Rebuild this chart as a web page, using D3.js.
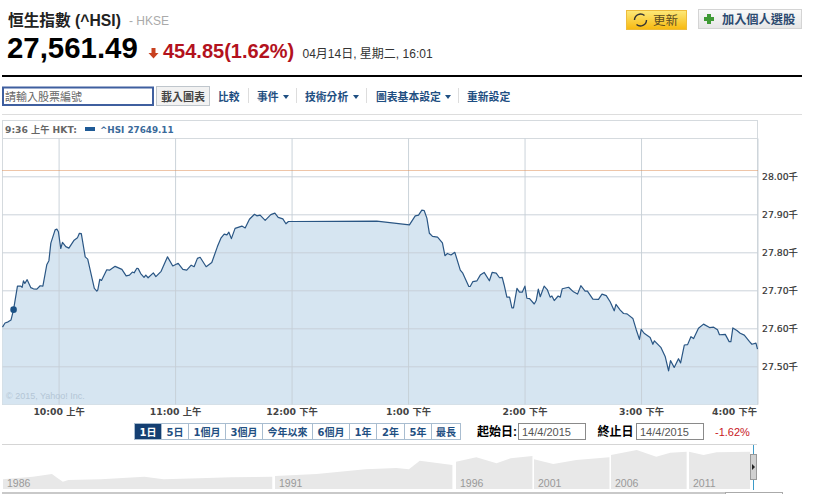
<!DOCTYPE html>
<html><head><meta charset="utf-8">
<script src="https://cdnjs.cloudflare.com/ajax/libs/d3/7.8.5/d3.min.js"></script>
<style>html,body{margin:0;padding:0;background:#fff;overflow:hidden}svg{display:block}</style>
</head><body><svg id="c" width="814" height="494"></svg>
<script>
// minutes after 09:00 on 14 Apr 2015
const minutes=[31.1,32.4,34,35.5,36.8,38.8,40.5,41.2,41.9,42.6,43.8,45.7,47,48.8,50.5,51.9,53.9,55,56,58.2,59.1,59.9,61.1,62,63.7,65.3,68,69.7,70.7,71.7,73.7,75,78.4,79.7,80.2,81.2,82.1,84.8,86.2,89.1,92.6,94.8,96.5,98,98.9,100.3,101,102.3,104,104.9,106.1,108.8,110.1,112.8,116.1,118.8,121.6,124,126,128.3,129.8,131.5,132.9,136,138.9,141.8,143.6,145.3,146.7,147.7,149,150.9,154.4,156.1,158.3,160.9,162.1,163.8,166.4,169.3,171.4,173.1,175.5,177.1,178.4,180.7,223.9,240.7,243.7,245.4,247.1,248.3,249.7,251,252.6,255.2,257.7,259,260.3,262.1,264.1,266.9,268.2,269.6,271.3,272,273.4,275.5,277.2,279.2,281.9,283.3,285.4,287.1,288.5,289.5,290.9,292.3,293.5,294.3,296.1,297.4,298.8,300.2,301.2,302.6,305,306,307.1,308.1,310.1,311.8,313.2,314.1,315.3,317.3,318.4,319.4,322.7,325.2,327.3,329,331.2,332.4,335.2,338.1,339.9,342.1,344.1,346.2,347.1,349.3,351,352.8,355.8,357.5,359.2,360.1,361.6,364.7,366.1,366.9,370.2,372.5,374.2,375.2,377.1,379.3,380.4,382.3,384,385.7,387.1,389.6,392.2,395.3,397.4,399.4,400.4,403.4,405.4,406.3,407.3,409.4,411.1,413.2,415.9,417.1,419.2,420];
const prices=[27603,27614,27617,27622,27649,27711,27711,27708,27725,27718,27728,27707,27704,27703,27712,27711,27767,27778,27824,27859,27861,27854,27810,27826,27815,27811,27832,27838,27850,27849,27788,27782,27705,27698,27701,27729,27726,27754,27753,27763,27755,27738,27740,27748,27746,27758,27757,27744,27734,27740,27733,27746,27736,27750,27788,27764,27771,27755,27753,27766,27762,27784,27787,27762,27773,27815,27837,27848,27846,27853,27836,27863,27869,27864,27887,27900,27896,27898,27884,27899,27903,27892,27888,27875,27881,27881,27882,27872,27896,27898,27911,27910,27890,27850,27842,27840,27825,27791,27797,27793,27800,27753,27745,27729,27710,27710,27723,27725,27740,27747,27725,27747,27745,27733,27734,27714,27682,27682,27654,27654,27705,27695,27695,27711,27679,27678,27664,27673,27703,27683,27711,27701,27682,27685,27673,27685,27682,27704,27708,27696,27690,27712,27698,27698,27677,27676,27690,27686,27670,27646,27663,27648,27639,27638,27626,27597,27571,27597,27587,27576,27558,27567,27550,27525,27488,27515,27497,27520,27509,27556,27557,27578,27573,27600,27611,27602,27603,27596,27583,27584,27565,27565,27601,27594,27587,27582,27565,27558,27561,27545];
const priceTicks=[27500,27600,27700,27800,27900,28000];
const timeTicks=[60,120,180,240,300,360,420];
const timeLabels=["10:00 上午","11:00 上午","12:00 下午","1:00 下午","2:00 下午","3:00 下午","4:00 下午"];
const previousClose=28016.34;
const hoverMinute=36.8, hoverPrice=27649.11;
const rangeLabels=["1日","5日","1個月","3個月","今年以來","6個月","1年","2年","5年","最長"];
const rangeEdges=[134.5,161.5,188.5,225.5,262.5,312.5,349.5,376.5,404.5,431.5,460.5];
const overviewYears=[1986,1986.55,1986.9,1987,1987.1,1987.2,1987.8,1988.6,1988.95,1989.6,1990.2,1990.95,1991,1992.15,1993.5,1994.35,1994.7,1995,1995.9,1996,1997.3,1998.6,1999.5,2000.9,2001,2002.25,2003.75,2005.9,2006,2007.65,2008.9,2009.8,2010.85,2011,2012,2012.9,2015.2];
const overviewLevels=[9.7,12.3,15,11,7.3,9,9.7,12.3,9.7,10.7,11.7,12.3,13,15,19.7,21,19.7,28.3,24,27.3,31.7,25.7,30.7,33,29.7,25,29,31.7,34,39,32.3,36.3,37.3,37.3,34,36.7,37.3];
const overviewMarks=[1986,1991,1996,2001,2006,2011];

const CJK='"Liberation Sans","Noto Sans CJK TC",sans-serif';
const VER='"DejaVu Sans","Noto Sans CJK TC",sans-serif';
const NAVY='#1f4f82';
const svg=d3.select('#c');
const defs=svg.append('defs');
function grad(id,a,b){const g=defs.append('linearGradient').attr('id',id).attr('x1',0).attr('x2',0).attr('y1',0).attr('y2',1);
 g.append('stop').attr('offset',0).attr('stop-color',a);g.append('stop').attr('offset',1).attr('stop-color',b);}
grad('gy','#fde97a','#f7b90f');grad('gg','#fafafa','#e6e6e6');
function txt(s,x,y,size,fill,weight,family,anchor){return svg.append('text').text(s).attr('x',x).attr('y',y).attr('font-size',size).attr('fill',fill).attr('font-weight',weight||'normal').attr('font-family',family||CJK).attr('text-anchor',anchor||'start');}
function box(x,y,w,h,fill,stroke,sw){return svg.append('rect').attr('x',x).attr('y',y).attr('width',w).attr('height',h).attr('fill',fill).attr('stroke',stroke||'none').attr('stroke-width',sw||1);}
function hr(y,x1,x2,c,w){svg.append('line').attr('x1',x1).attr('x2',x2).attr('y1',y).attr('y2',y).attr('stroke',c).attr('stroke-width',w||1);}

// title block
txt('恒生指數 (^HSI)',8,26,15.7,'#222','bold');
txt('- HKSE',129,25,12,'#aaa');
txt('27,561.49',7,58,29.4,'#000','bold');
svg.append('path').attr('d','M151.5 48h4v5h3l-5 5.5-5-5.5h3z').attr('fill','#c8401f');
txt('454.85(1.62%)',163,58,20,'#b3121d','bold');
txt('04月14日, 星期二, 16:01',302.5,58,12,'#333');
hr(76,2,802,'#000',2);

// top buttons
box(626.5,10.5,60,19,'url(#gy)','#eebc3c');
svg.append('path').attr('d','M634.5 20a6 6 0 0 1 10-4.4M646.5 20a6 6 0 0 1-10 4.4').attr('fill','none').attr('stroke','#333').attr('stroke-width',1.4);
txt('更新',653,25,12.5,'#5a4a20');
box(698.5,9.5,103,19,'url(#gg)','#d4d4d4');
svg.append('path').attr('d','M707 14h4v3h3v4h-3v3h-4v-3h-3v-4h3z').attr('fill','#3f9a35');
txt('加入個人選股',722,24,12.2,'#2c4a70','bold');

// toolbar
box(3,87.5,150,17.5,'#fff','#3f5f9f',2);
txt('請輸入股票編號',5,101,11,'#666');
box(156.5,86.5,53,19,'#f2f2f2','#bfc6cc');
txt('載入圖表',161,101,11,'#444','bold');
const navLabels=[['比較',218],['事件',257],['技術分析',305],['圖表基本設定',376],['重新設定',467]];
navLabels.forEach(d=>txt(d[0],d[1],101,10.8,NAVY,'bold'));
[248,296,366,458].forEach(x=>svg.append('line').attr('x1',x+.5).attr('x2',x+.5).attr('y1',88).attr('y2',103).attr('stroke','#ddd'));
[283,353,445].forEach(x=>svg.append('path').attr('d',`M${x} 95h6l-3 4z`).attr('fill',NAVY));
hr(114.5,2,802,'#ddd');

// main chart
const x=d3.scaleLinear().domain([31.1,420]).range([2.5,757.5]);
const y=d3.scaleLinear().domain([27500,28000]).range([366.3,176.3]);
const plotTop=138.5,plotBottom=404.5;
const pts=minutes.map((m,i)=>[m,prices[i]]);
box(2.5,120.5,755,284,'#fff','#d5dade');
hr(plotTop,2.5,757.5,'#d5dade');
svg.append('path').datum(pts).attr('fill','#d6e5f1')
 .attr('d',d3.area().x(d=>x(d[0])).y0(plotBottom).y1(d=>y(d[1])));
const GRID='#c5ced6';
const gy=svg.append('g').attr('transform','translate(757.5,0)')
 .call(d3.axisRight(y).tickValues(priceTicks).tickSize(0).tickPadding(4.5).tickFormat(v=>(v/1000).toFixed(2)+'千'));
gy.select('.domain').remove();
gy.selectAll('text').attr('font-family',VER).attr('font-size',9.3).attr('fill','#333').attr('stroke','#333').attr('stroke-width',.2);
gy.selectAll('.tick').append('line').attr('x1',-755).attr('x2',0).attr('stroke',GRID).attr('stroke-opacity',.9).attr('y1',0).attr('y2',0);
gy.selectAll('.tick text').attr('dy','0.32em');
const gx=svg.append('g').attr('transform',`translate(0,${plotBottom})`)
 .call(d3.axisBottom(x).tickValues(timeTicks).tickSize(0).tickPadding(4).tickFormat((d,i)=>timeLabels[i]));
gx.select('.domain').remove();
gx.selectAll('text').attr('font-family',VER).attr('font-size',9.3).attr('font-weight','bold').attr('fill','#444');
gx.selectAll('.tick').filter(d=>d===420).select('text').attr('text-anchor','end').attr('x',-1);
gx.selectAll('.tick').append('line').attr('y1',0).attr('y2',plotTop-plotBottom).attr('stroke',GRID).attr('stroke-opacity',.9);
const closeY=Math.round(y(previousClose))+.5;
svg.append('line').attr('x1',x.range()[0]).attr('x2',x.range()[1]).attr('y1',closeY).attr('y2',closeY)
 .attr('stroke','#dc8a50').attr('stroke-dasharray','1 1');
svg.append('path').datum(pts).attr('fill','none').attr('stroke','#2a5684').attr('stroke-width',1.2).attr('stroke-linejoin','round')
 .attr('d',d3.line().x(d=>x(d[0])).y(d=>y(d[1])));
svg.append('circle').attr('cx',x(hoverMinute)).attr('cy',y(hoverPrice)).attr('r',3.3).attr('fill','#1c5286');
txt('© 2015, Yahoo! Inc.',6,399,9,'#b4c6d6');

// chart header
txt('9:36 上午 HKT:',5,133,9.2,'#666','bold',VER);
box(85,127,10,4,'#1e5a96');
txt('^HSI 27649.11',100,133,8.8,'#3a6a9a','bold',VER);

// range buttons
rangeLabels.forEach((s,i)=>{
 const a=rangeEdges[i],b=rangeEdges[i+1],on=i===0;
 box(a,423.5,b-a,16,on?'#143f72':'#fff','#a9bdd0');
 txt(s,(a+b)/2,435.5,10,on?'#fff':NAVY,'bold',VER,'middle');
});
txt('起始日:',477,436,12,'#000','bold');
box(518.5,423.5,67,16,'#fff','#8a8a8a');
txt('14/4/2015',522,436,11,'#555');
txt('終止日',597.5,436,12,'#000','bold');
box(636.5,423.5,67,16,'#fff','#8a8a8a');
txt('14/4/2015',640,436,11,'#555');
txt('-1.62%',715,436,11,'#c8161d');
hr(444.5,2,757,'#d5d5d5');

// overview strip
const ox=d3.scaleLinear().domain([1986,1991,1996,2001,2006,2011,2015.2]).range([3,275,456,534,611,689,750]);
const oy=d3.scaleLinear().domain([0,40]).range([489,449]);
const ov=overviewYears.map((t,i)=>[t,overviewLevels[i]]);
overviewMarks.forEach((m,i)=>{
 const end=overviewMarks[i+1]||2016;
 const seg=ov.filter(d=>d[0]>=m&&d[0]<end);
 svg.append('path').datum(seg).attr('fill','#e8e8e8')
  .attr('d',d3.area().x(d=>ox(d[0])).y0(oy(0)).y1(d=>oy(d[1])));
 txt(String(m),ox(m)+4,487,10.5,'#999');
});
box(2,492,723,2,'#c9c9c9');
box(725.5,492.5,57,3,'#fff','#aaa');
svg.append('line').attr('x1',753.5).attr('x2',753.5).attr('y1',445).attr('y2',490).attr('stroke','#3d9bc8');
box(750.5,454.5,6,25,'#d0d0d0','#999');
svg.append('path').attr('d','M752 464l3 3-3 3z').attr('fill','#222');
</script></body></html>
